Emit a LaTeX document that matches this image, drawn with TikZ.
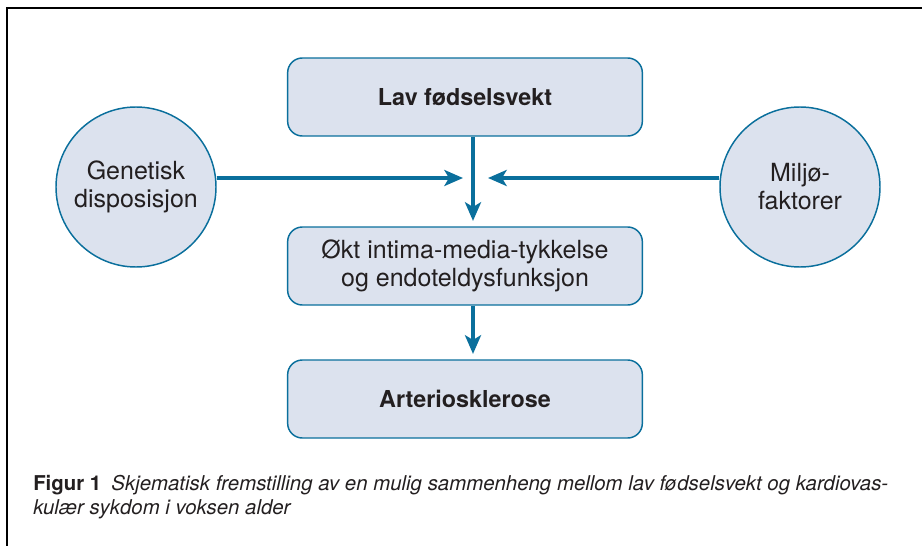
\documentclass[tikz,border=0pt]{standalone}
\usepackage{fontspec}
\setmainfont{TeX Gyre Heros}
\usetikzlibrary{arrows.meta, positioning, calc}
\definecolor{cblue}{HTML}{0A6F9C}
\definecolor{cfill}{HTML}{DCE2EE}
\definecolor{ctext}{HTML}{231F20}

\begin{document}
\begin{tikzpicture}[x=0.75pt, y=-0.75pt,
  stage/.style={draw=cblue, fill=cfill, line width=1.1pt, rounded corners=11pt,
    minimum width=266pt, minimum height=58.5pt, text=ctext, align=center,
    font=\fontsize{18.75}{21}\selectfont},
  stagebold/.style={stage, font=\fontsize{17.5}{21}\selectfont\bfseries},
  factor/.style={circle, draw=cblue, fill=cfill, line width=1.1pt, minimum size=120pt,
    inner sep=0pt, text=ctext, align=center, font=\fontsize{18.75}{21}\selectfont},
  flow/.style={draw=cblue, line width=2.5pt, -{Stealth[length=14pt, width=12pt, inset=3.5pt]}},
  capline/.style={anchor=base west, inner sep=0pt, text=ctext, font=\fontsize{15.3}{18}\selectfont}]
  \useasboundingbox (0,0) rectangle (922,546);
  % frame
  \draw[line width=1.3pt] (922,8) -- (7,8) -- (7,546);

  % stages
  \node[stagebold] (lbw) at (465,97) {Lav fødselsvekt};
  \node[stage] (imt) at (465,266) {Økt intima-media-tykkelse\\og endoteldysfunksjon};
  \node[stagebold] (ath) at (465,399) {Arteriosklerose};

  % factors
  \node[factor] (gen) at (136,187) {Genetisk\\disposisjon};
  \node[factor] (env) at (800,187) {Miljø-\\faktorer};

  % arrow ends
  \coordinate (jl) at (463,178);
  \coordinate (jr) at (488,178);

  \draw[flow] ([xshift=6pt]lbw.south) -- ([xshift=6pt, yshift=4pt]imt.north);
  \draw[flow] ([xshift=6pt]imt.south) -- ([xshift=6pt, yshift=4pt]ath.north);
  \draw[flow] (gen.east |- jl) -- (jl);
  \draw[flow] (env.west |- jr) -- (jr);

  % caption
  \node[capline] (cap1) at (33,490) {\textbf{Figur 1}\enspace\textit{Skjematisk fremstilling av en mulig sammenheng mellom lav fødselsvekt og kardiovas-}};
  \node[capline] (cap2) at (33,514) {\textit{kulær sykdom i voksen alder}};
\end{tikzpicture}
\end{document}
